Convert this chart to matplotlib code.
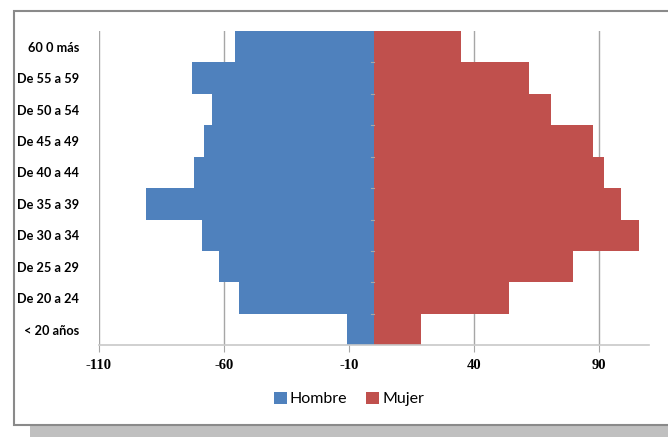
import matplotlib
matplotlib.use("Agg")
import matplotlib.pyplot as plt
from matplotlib.patches import Rectangle

categories = ["< 20 años", "De 20 a 24", "De 25 a 29", "De 30 a 34", "De 35 a 39",
              "De 40 a 44", "De 45 a 49", "De 50 a 54", "De 55 a 59", "60 0 más"]
hombre = [-10.5, -53.7, -61.7, -68.7, -91.0, -71.7, -67.7, -64.8, -72.8, -55.6]
mujer = [18.8, 54.0, 79.9, 106.0, 99.0, 92.0, 87.9, 70.9, 62.1, 34.9]
xticks = [-110, -60, -10, 40, 90]

W, H = 668, 437
fig = plt.figure(figsize=(W / 100, H / 100), dpi=100)

# shadow and frame
fig.patches.append(Rectangle((30 / W, 0), 1, (437 - 425) / H, transform=fig.transFigure,
                             facecolor="#C0C0C0", edgecolor="none", zorder=0))
fig.patches.append(Rectangle((14 / W, (437 - 425) / H), 1, (425 - 11) / H,
                             transform=fig.transFigure, facecolor="white",
                             edgecolor="#8A8A8A", linewidth=1.5, zorder=1))

left, right, top, bottom = 98.7, 648.7, 31, 345.3
ax = fig.add_axes([left / W, 1 - bottom / H, (right - left) / W, (bottom - top) / H])
ax.set_zorder(2)
ax.patch.set_alpha(0)

y = list(range(len(categories)))
ax.barh(y, hombre, height=1.0, color="#4F81BD", label="Hombre", edgecolor="none")
ax.barh(y, mujer, height=1.0, color="#C0504D", label="Mujer", edgecolor="none")

ax.set_xlim(-110, 110)
ax.set_ylim(-0.5, len(categories) - 0.5)
ax.set_xticks(xticks)
ax.set_xticklabels([str(t) for t in xticks], fontfamily="Liberation Serif",
                   fontweight="bold", fontsize=10.5)
ax.set_yticks(y)
ax.set_yticklabels(categories, fontfamily="Lato", fontweight="bold", fontsize=9.2)
ax.tick_params(axis="y", length=0, pad=14)
ax.tick_params(axis="x", length=5, color="#A6A6A6", pad=5)
ax.grid(axis="x", color="#A6A6A6", linewidth=1)
ax.set_axisbelow(True)
for s in ["top", "right", "left"]:
    ax.spines[s].set_visible(False)
ax.spines["bottom"].set_color("#C8C8C8")
ax.spines["bottom"].set_linewidth(1.2)

# category boundary tick marks on the zero line
for b in range(1, len(categories)):
    ax.plot([-1.2, 0], [b - 0.5, b - 0.5], color="#A6A6A6", linewidth=0.8, zorder=3)

leg = fig.legend(loc="center", bbox_to_anchor=(349 / W, 1 - 399 / H), ncol=2,
                 frameon=False, prop={"family": "Lato", "size": 11.5},
                 handlelength=0.8, handleheight=0.8, handletextpad=0.2,
                 columnspacing=1.2)

fig.savefig("out.png", dpi=100)
